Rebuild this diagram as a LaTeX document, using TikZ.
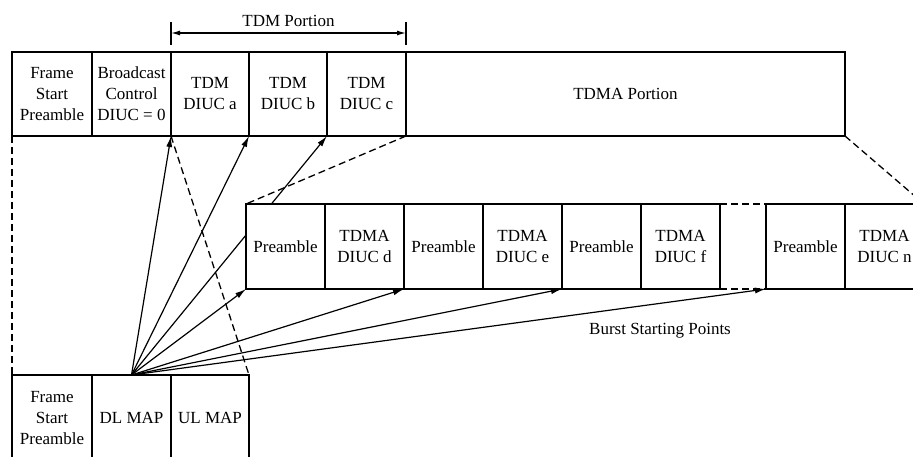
\documentclass[tikz,border=0pt]{standalone}
\usepackage{fontspec}
\setmainfont{Liberation Serif}
\usetikzlibrary{arrows.meta,positioning,backgrounds}

\begin{document}
\begin{tikzpicture}[x=1pt, y=-1pt,
  every node/.style={font=\fontsize{17}{21}\selectfont},
  cell/.style={draw, line width=1.4pt, fill=white, minimum width=79pt, minimum height=85pt,
    inner sep=0pt, outer sep=0pt, align=center},
  gapline/.style={line width=1.3pt, dash pattern=on 7pt off 4pt},
  burst/.style={line width=1.2pt, -{Latex[length=11pt,width=6pt]}}]
  \useasboundingbox (0,0) rectangle (913,457);
  \clip (0,0) rectangle (913,457);

  \node[cell, minimum width=80pt, minimum height=84pt, anchor=north west] (fsp) at (12,52) {Frame\\Start\\Preamble};
  \node[cell, minimum height=84pt, right=0pt of fsp] (bcast) {Broadcast\\Control\\DIUC = 0};
  \node[cell, minimum width=78pt, minimum height=84pt, right=0pt of bcast] (tdmA) {TDM\\DIUC a};
  \node[cell, minimum width=78pt, minimum height=84pt, right=0pt of tdmA] (tdmB) {TDM\\DIUC b};
  \node[cell, minimum height=84pt, right=0pt of tdmB] (tdmC) {TDM\\DIUC c};
  \node[cell, minimum width=439pt, minimum height=84pt, right=0pt of tdmC] (tdmaPart) {TDMA Portion};

  \node[cell, anchor=north west] (preD) at (246,204) {Preamble};
  \node[cell, right=0pt of preD] (diucD) {TDMA\\DIUC d};
  \node[cell, right=0pt of diucD] (preE) {Preamble};
  \node[cell, right=0pt of preE] (diucE) {TDMA\\DIUC e};
  \node[cell, right=0pt of diucE] (preF) {Preamble};
  \node[cell, right=0pt of preF] (diucF) {TDMA\\DIUC f};
  \node[cell, right=46pt of diucF] (preN) {Preamble};
  \node[cell, right=0pt of preN] (diucN) {TDMA\\DIUC n};

  \node[cell, minimum width=80pt, minimum height=86pt, anchor=north west] (fspB) at (12,375) {Frame\\Start\\Preamble};
  \node[cell, minimum height=86pt, right=0pt of fspB] (dlmap) {DL MAP};
  \node[cell, minimum width=78pt, minimum height=86pt, right=0pt of dlmap] (ulmap) {UL MAP};

  \begin{scope}[on background layer]
    \foreach \t in {tdmA.south west, tdmB.south west, tdmC.south west,
                    preD.south west, preE.south west, preF.south west, preN.south west}
      \draw[burst] (dlmap.north) -- (\t);
  \end{scope}

  \draw[gapline] (fsp.south west) -- (fspB.north west);
  \draw[gapline] (tdmA.south west) -- (ulmap.north east);
  \draw[gapline] (tdmC.south east) -- (preD.north west);
  \draw[gapline] (tdmaPart.south east) -- (diucN.north east);
  \draw[gapline] (diucF.north east) -- (preN.north west) (diucF.south east) -- (preN.south west);

  \draw[line width=1.2pt] ([yshift=7pt]tdmA.north west) -- ([yshift=30pt]tdmA.north west);
  \draw[line width=1.2pt] ([yshift=7pt]tdmC.north east) -- ([yshift=30pt]tdmC.north east);
  \draw[line width=1.2pt, {Latex[length=9pt,width=5pt]}-{Latex[length=9pt,width=5pt]}]
    ([yshift=19pt]tdmA.north west) -- ([yshift=19pt]tdmC.north east)
    node[midway, above=2pt] (tdmLbl) {TDM Portion};

  \node (burstLbl) at (660,331) {Burst Starting Points};
\end{tikzpicture}
\end{document}
